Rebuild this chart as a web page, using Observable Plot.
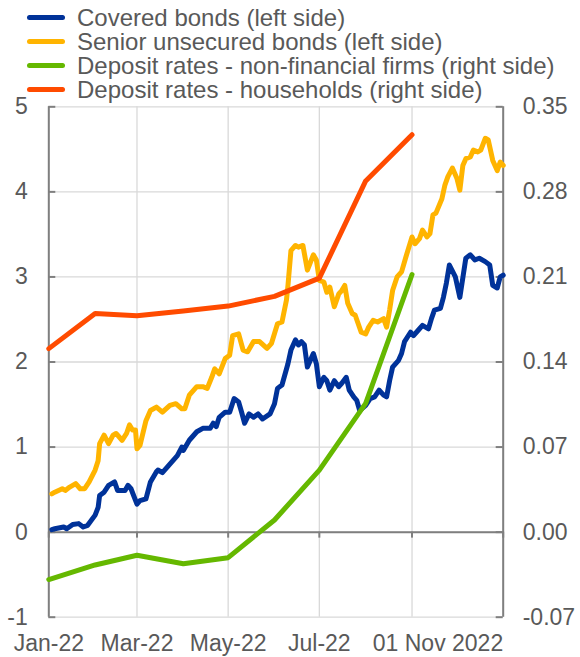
<!DOCTYPE html>
<html>
<head>
<meta charset="utf-8">
<script src="https://cdn.jsdelivr.net/npm/d3@7"></script>
<script src="https://cdn.jsdelivr.net/npm/@observablehq/plot@0.6"></script>
<style>
  body { margin: 0; background: #fff; font-family: "Liberation Sans", Arial, sans-serif; }
  #legend { position: relative; height: 100px; width: 580px; }
  .item { position: absolute; left: 27px; height: 24px; display: flex; align-items: center;
          font-size: 24px; line-height: 21px; color: #595959; white-space: nowrap; }
  .item span { line-height: 21px; }
  .sw { width: 38px; height: 5px; border-radius: 3px; margin-right: 12px; }
  #chart svg { display: block; overflow: visible; }
</style>
</head>
<body>
<div id="legend"></div>
<div id="chart"></div>
<script>
// ---- Data ----
const seriesNames = [
  "Covered bonds (left side)",
  "Senior unsecured bonds (left side)",
  "Deposit rates - non-financial firms (right side)",
  "Deposit rates - households (right side)"
];
const seriesColors = ["#003299", "#FFB400", "#65B800", "#FF4B00"];

const coveredDates = ["01-03","01-05","01-11","01-13","01-17","01-21","01-24","01-27","02-01","02-03","02-04","02-07","02-10","02-14","02-16","02-21","02-23","02-25","03-01","03-03","03-07","03-10","03-14","03-15","03-18","03-23","03-28","03-31","04-01","04-05","04-10","04-14","04-19","04-21","04-23","04-25","04-29","05-02","05-05","05-08","05-10","05-12","05-15","05-18","05-21","05-24","05-29","06-01","06-03","06-06","06-10","06-12","06-15","06-17","06-19","06-21","06-23","06-27","06-29","07-01","07-04","07-06","07-08","07-11","07-14","07-16","07-19","07-21","07-24","07-26","07-28","08-01","08-04","08-07","08-10","08-13","08-15","08-17","08-19","08-23","08-25","08-27","08-31","09-02","09-05","09-08","09-12","09-14","09-16","09-20","09-22","09-24","09-26","09-30","10-03","10-07","10-10","10-13","10-16","10-20","10-23","10-25","10-28","10-30","11-01"];
const coveredValues = [0.03,0.04,0.06,0.04,0.09,0.10,0.06,0.08,0.20,0.29,0.43,0.47,0.55,0.59,0.49,0.49,0.55,0.51,0.33,0.37,0.39,0.59,0.71,0.73,0.70,0.80,0.90,1.00,0.96,1.08,1.18,1.22,1.22,1.28,1.24,1.35,1.41,1.41,1.57,1.53,1.41,1.28,1.39,1.35,1.39,1.33,1.39,1.51,1.69,1.73,1.98,2.14,2.26,2.20,2.24,2.20,1.94,2.10,1.98,1.71,1.82,1.78,1.67,1.78,1.71,1.75,1.82,1.67,1.59,1.55,1.43,1.49,1.57,1.59,1.67,1.61,1.59,1.78,1.94,2.02,2.10,2.24,2.35,2.31,2.37,2.43,2.39,2.51,2.61,2.63,2.76,2.93,3.14,3.00,2.76,3.22,3.26,3.20,3.22,3.18,3.14,2.90,2.87,3.00,3.02];

const seniorDates = ["01-03","01-05","01-10","01-12","01-15","01-19","01-22","01-25","01-28","02-01","02-03","02-04","02-07","02-10","02-13","02-15","02-19","02-22","02-24","02-26","02-28","03-01","03-03","03-07","03-10","03-14","03-18","03-23","03-27","03-31","04-02","04-05","04-10","04-14","04-17","04-20","04-22","04-25","04-29","05-02","05-04","05-08","05-11","05-14","05-18","05-22","05-27","05-30","06-03","06-06","06-09","06-10","06-12","06-15","06-17","06-20","06-23","06-27","06-29","07-01","07-04","07-06","07-08","07-11","07-14","07-16","07-18","07-20","07-23","07-25","07-27","07-29","08-01","08-03","08-06","08-09","08-13","08-15","08-17","08-19","08-22","08-25","08-28","09-01","09-03","09-06","09-08","09-11","09-13","09-15","09-17","09-21","09-23","09-25","09-28","10-01","10-03","10-05","10-07","10-10","10-12","10-15","10-17","10-20","10-22","10-25","10-28","10-30","11-01"];
const seniorValues = [0.45,0.47,0.51,0.49,0.53,0.57,0.51,0.51,0.59,0.73,0.84,1.04,1.14,1.04,1.14,1.16,1.08,1.16,1.26,1.20,1.20,0.98,1.02,1.31,1.43,1.47,1.41,1.49,1.51,1.45,1.45,1.61,1.71,1.71,1.69,1.82,1.92,1.86,2.04,2.08,2.31,2.33,2.14,2.12,2.24,2.24,2.16,2.22,2.45,2.47,2.73,2.90,3.31,3.37,3.35,3.37,3.08,3.26,3.20,2.96,2.94,2.82,2.88,2.65,2.80,2.84,2.90,2.69,2.57,2.55,2.45,2.35,2.33,2.41,2.49,2.47,2.51,2.41,2.61,2.84,3.00,3.06,3.24,3.47,3.39,3.45,3.55,3.47,3.51,3.73,3.75,3.92,4.08,4.18,4.28,4.16,4.02,4.31,4.39,4.41,4.49,4.47,4.49,4.63,4.61,4.37,4.25,4.35,4.31];

const depositMonths = ["01-01","02-01","03-01","04-01","05-01","06-01","07-01","08-01","09-01"];
const firmsRates = [-0.039,-0.027,-0.019,-0.026,-0.021,0.010,0.051,0.106,0.212];
const householdRates = [0.151,0.180,0.178,0.182,0.186,0.194,0.209,0.289,0.327];

const leftTicks = [-1, 0, 1, 2, 3, 4, 5];
const rightFactor = 0.07; // right axis = left axis * 0.07
const xTickDates = ["01-01","03-01","05-01","07-01","09-01","11-01"];
const xTickLabels = ["Jan-22","Mar-22","May-22","Jul-22","","01 Nov 2022"];

// ---- Build ----
const parse = s => d3.utcParse("%Y-%m-%d")("2022-" + s);
const mk = (dates, vals, scale = 1) => dates.map((d, i) => ({date: parse(d), y: vals[i] / scale}));
const covered = mk(coveredDates, coveredValues);
const senior = mk(seniorDates, seniorValues);
const firms = mk(depositMonths, firmsRates, rightFactor);
const households = mk(depositMonths, householdRates, rightFactor);
const xTicks = xTickDates.map(parse);
const xDomain = [xTicks[0], xTicks[xTicks.length - 1]];

// legend
const legend = document.getElementById("legend");
seriesNames.forEach((n, i) => {
  const it = document.createElement("div");
  it.className = "item";
  it.style.top = (5 + 24 * i) + "px";
  it.innerHTML = `<span class="sw" style="background:${seriesColors[i]}"></span><span>${n}</span>`;
  legend.appendChild(it);
});

const W = 580, H = 557;
const mL = 48.3, mR = 77.3, mT = 6.3, mB = 40.3;
const innerW = W - mL - mR;
const axisGray = "#7f7f7f", gridGray = "#d9d9d9", textGray = "#595959";
const lineOpts = {x: "date", y: "y", strokeWidth: 5, strokeLinejoin: "round", strokeLinecap: "round"};

const plot = Plot.plot({
  width: W, height: H,
  marginLeft: mL, marginRight: mR, marginTop: mT, marginBottom: mB,
  style: {fontFamily: "'Liberation Sans', Arial, sans-serif", fontSize: "23px", color: textGray, background: "white"},
  x: {type: "utc", domain: xDomain},
  y: {domain: [-1, 5]},
  marks: [
    Plot.gridY(leftTicks, {stroke: gridGray, strokeOpacity: 1, strokeWidth: 1.3}),
    Plot.gridX(xTicks, {stroke: gridGray, strokeOpacity: 1, strokeWidth: 1.3}),
    Plot.ruleY([0], {stroke: axisGray, strokeWidth: 2}),
    Plot.ruleX([xDomain[0]], {stroke: axisGray, strokeWidth: 2}),
    Plot.ruleX([xDomain[1]], {stroke: axisGray, strokeWidth: 2}),
    Plot.tickY(leftTicks, {y: d => d, stroke: axisGray, strokeWidth: 2, insetRight: innerW - 7}),
    Plot.tickY(leftTicks, {y: d => d, stroke: axisGray, strokeWidth: 2, insetLeft: innerW - 7}),
    Plot.ruleX(xTicks, {x: d => d, y1: 0, y2: 0, insetBottom: -6, stroke: axisGray, strokeWidth: 2}),
    Plot.axisY(leftTicks, {anchor: "left", label: null, tickSize: 0, tickPadding: 21, fontSize: 23, fill: textGray, tickFormat: d => String(d)}),
    Plot.axisY(leftTicks, {anchor: "right", label: null, tickSize: 0, tickPadding: 19.5, fontSize: 23, fill: textGray, tickFormat: d => (d * rightFactor).toFixed(2)}),
    Plot.axisX(xTicks.slice(0, 5), {anchor: "bottom", label: null, tickSize: 0, tickPadding: 17, fontSize: 23, fill: textGray, tickFormat: (d, i) => xTickLabels[i]}),
    Plot.axisX(xTicks.slice(5), {anchor: "bottom", label: null, tickSize: 0, tickPadding: 17, fontSize: 23, fill: textGray, textAnchor: "end", tickFormat: () => xTickLabels[5]}),
    Plot.line(covered, {...lineOpts, stroke: seriesColors[0]}),
    Plot.line(senior, {...lineOpts, stroke: seriesColors[1]}),
    Plot.line(firms, {...lineOpts, stroke: seriesColors[2]}),
    Plot.line(households, {...lineOpts, stroke: seriesColors[3]})
  ]
});
document.getElementById("chart").appendChild(plot);
</script>
</body>
</html>
